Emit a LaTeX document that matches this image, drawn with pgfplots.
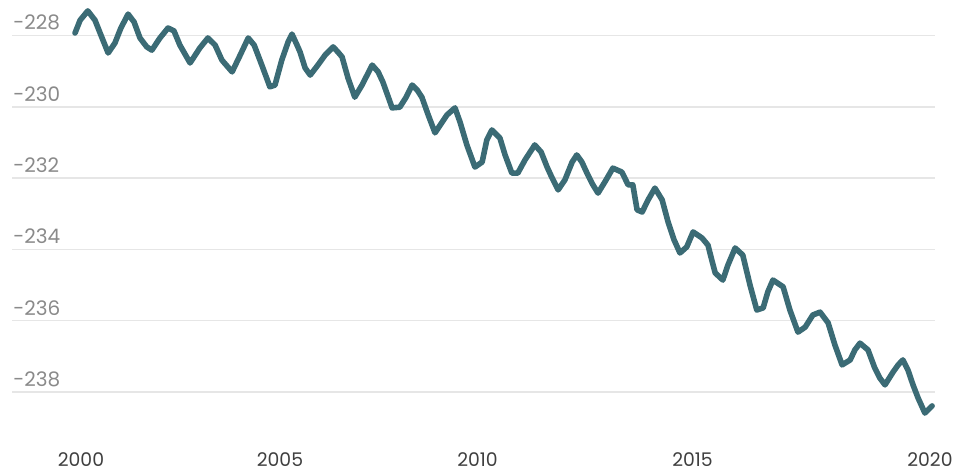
\documentclass[border=0pt]{standalone}
\usepackage{fontspec}
\setmainfont{Poppins}
\usepackage{pgfplots}
\pgfplotsset{compat=1.18}
\definecolor{linecol}{HTML}{3B6B75}
\definecolor{gridcol}{HTML}{E6E6E6}
\definecolor{ylab}{HTML}{8A8A8A}
\definecolor{xlab}{HTML}{3F3F3F}
\begin{document}
\begin{tikzpicture}
\begin{axis}[
  name=ax,
  scale only axis,
  width=461.5pt, height=225pt,
  xmin=1998.375, xmax=2020.118,
  ymin=-239.627, ymax=-227.004,
  axis line style={draw=none},
  tick style={draw=none},
  major tick length=0pt,
  ymajorgrids,
  grid style={gridcol, line width=0.75pt},
  ytick={-238,-236,-234,-232,-230,-228},
  yticklabels={-238,-236,-234,-232,-230,-228},
  xtick={2000,2004.688,2009.34,2014.405,2020},
  xticklabels={2000,2005,2010,2015,2020},
  yticklabel style={anchor=south west, inner sep=0pt, xshift=0.5pt, yshift=2.5pt, font=\fontsize{10}{11}\selectfont, text=ylab},
  xticklabel style={anchor=north, inner sep=0pt, yshift=-1.3pt, font=\fontsize{9.4}{10}\selectfont, text=xlab},
  clip=false,
]
\addplot[linecol, line width=2.8pt, line join=round, line cap=round] table[row sep=\\] {
x y\\
1999.86 -227.93\\
1999.98 -227.57\\
2000.16 -227.31\\
2000.33 -227.57\\
2000.45 -227.93\\
2000.64 -228.49\\
2000.80 -228.21\\
2000.94 -227.79\\
2001.11 -227.40\\
2001.25 -227.62\\
2001.39 -228.07\\
2001.55 -228.32\\
2001.67 -228.41\\
2001.86 -228.07\\
2002.05 -227.79\\
2002.19 -227.87\\
2002.33 -228.27\\
2002.57 -228.77\\
2002.80 -228.35\\
2002.99 -228.07\\
2003.16 -228.27\\
2003.32 -228.69\\
2003.56 -229.02\\
2003.75 -228.55\\
2003.94 -228.07\\
2004.08 -228.27\\
2004.26 -228.83\\
2004.45 -229.44\\
2004.57 -229.39\\
2004.73 -228.69\\
2004.88 -228.18\\
2004.97 -227.96\\
2005.09 -228.27\\
2005.16 -228.46\\
2005.28 -228.91\\
2005.40 -229.11\\
2005.58 -228.83\\
2005.75 -228.55\\
2005.94 -228.32\\
2006.05 -228.46\\
2006.15 -228.60\\
2006.29 -229.19\\
2006.45 -229.73\\
2006.62 -229.39\\
2006.86 -228.83\\
2007.00 -229.02\\
2007.11 -229.30\\
2007.33 -230.03\\
2007.51 -230.01\\
2007.66 -229.73\\
2007.80 -229.39\\
2007.92 -229.53\\
2008.03 -229.73\\
2008.18 -230.23\\
2008.34 -230.73\\
2008.48 -230.48\\
2008.62 -230.23\\
2008.81 -230.03\\
2008.93 -230.43\\
2009.09 -231.07\\
2009.28 -231.69\\
2009.45 -231.55\\
2009.56 -230.93\\
2009.68 -230.65\\
2009.87 -230.88\\
2009.99 -231.35\\
2010.15 -231.86\\
2010.29 -231.86\\
2010.46 -231.49\\
2010.69 -231.07\\
2010.84 -231.27\\
2010.98 -231.69\\
2011.10 -232.00\\
2011.24 -232.33\\
2011.40 -232.05\\
2011.57 -231.55\\
2011.68 -231.35\\
2011.80 -231.55\\
2011.92 -231.86\\
2012.06 -232.19\\
2012.18 -232.42\\
2012.34 -232.11\\
2012.53 -231.72\\
2012.74 -231.83\\
2012.89 -232.19\\
2013.00 -232.19\\
2013.10 -232.89\\
2013.22 -232.95\\
2013.36 -232.61\\
2013.52 -232.28\\
2013.69 -232.61\\
2013.83 -233.23\\
2013.97 -233.73\\
2014.11 -234.10\\
2014.27 -233.93\\
2014.42 -233.51\\
2014.63 -233.68\\
2014.77 -233.88\\
2014.86 -234.30\\
2014.94 -234.66\\
2015.12 -234.86\\
2015.24 -234.44\\
2015.41 -233.96\\
2015.59 -234.16\\
2015.76 -235.00\\
2015.92 -235.70\\
2016.07 -235.64\\
2016.18 -235.19\\
2016.30 -234.86\\
2016.54 -235.05\\
2016.70 -235.70\\
2016.89 -236.32\\
2017.06 -236.18\\
2017.24 -235.84\\
2017.41 -235.76\\
2017.60 -236.06\\
2017.76 -236.68\\
2017.93 -237.24\\
2018.12 -237.10\\
2018.23 -236.82\\
2018.35 -236.63\\
2018.54 -236.82\\
2018.70 -237.33\\
2018.82 -237.61\\
2018.94 -237.80\\
2019.13 -237.44\\
2019.25 -237.24\\
2019.36 -237.10\\
2019.48 -237.38\\
2019.60 -237.80\\
2019.72 -238.17\\
2019.88 -238.59\\
2020.05 -238.39\\
};
\end{axis}
\pgfresetboundingbox
\path[use as bounding box] ([xshift=-6pt,yshift=-11pt]ax.south west) rectangle ([xshift=11.5pt]ax.north east);
\end{tikzpicture}
\end{document}
